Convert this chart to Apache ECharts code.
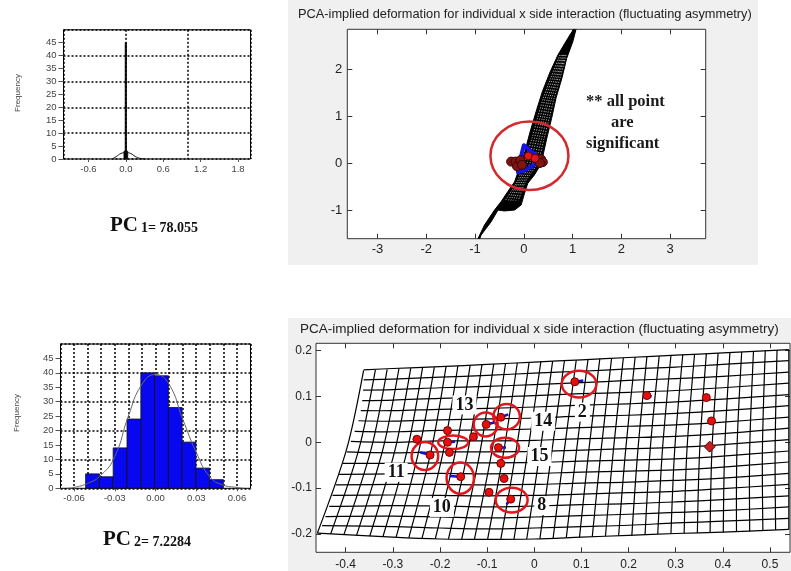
<!DOCTYPE html>
<html><head><meta charset="utf-8">
<script src="https://cdn.jsdelivr.net/npm/echarts@6/dist/echarts.min.js"></script>
<style>
html,body{margin:0;padding:0;background:#fff;}
#wrap{position:relative;width:791px;height:571px;overflow:hidden;background:#fff;}
.panel{position:absolute;background:#f0f0f0;}
#chart{position:absolute;left:0;top:0;width:791px;height:571px;}
</style></head><body>
<div id="wrap">
<div class="panel" style="left:288px;top:0;width:470px;height:265px"></div>
<div class="panel" style="left:288px;top:318px;width:503px;height:253px"></div>
<div id="chart"></div>
</div>
<script>
// ---------- PC1 histogram ----------
const pc1Edges = [-0.03, -0.01, 0.01, 0.03];
const pc1Counts = [3, 45, 3];
const pc1CurveX = [-0.22, -0.15, -0.08, 0, 0.08, 0.15, 0.22, 0.3];
const pc1CurveY = [0, 1, 2.1, 2.5, 2.1, 1, 0.3, 0];
const pc1XTicks = [-0.6, 0, 0.6, 1.2, 1.8];
const freqTicks = [0, 5, 10, 15, 20, 25, 30, 35, 40, 45];

// ---------- PC2 histogram ----------
const pc2Edges = [-0.0515, -0.0413, -0.0312, -0.021, -0.0108, -0.0007, 0.0095, 0.0196, 0.0298, 0.0399, 0.05];
const pc2Counts = [5, 4, 14, 24, 40, 39, 28, 16, 7, 3];
const pc2CurveX = [-0.065, -0.06, -0.05, -0.04, -0.03, -0.02, -0.01, 0, 0.01, 0.02, 0.03, 0.04, 0.05, 0.06, 0.065];
const pc2CurveY = [0, 0.3, 1.7, 4.6, 11, 25, 36, 39.4, 36, 24, 12.5, 4, 1.1, 0.3, 0];
const pc2XTicks = [-0.06, -0.03, 0, 0.03, 0.06];

// ---------- top-right deformation ----------
const trXTicks = [-3, -2, -1, 0, 1, 2, 3];
const trYTicks = [-1, 0, 1, 2];
const trOutline = [[1.072,2.85],[1.004,2.58],[0.88,2.23],[0.78,1.80],[0.66,1.38],[0.57,0.95],[0.47,0.52],[0.395,0.17],[0.341,-0.04],[0.217,-0.255],[0.082,-0.43],[0.014,-0.645],[-0.055,-0.894],[-0.19,-1.0],[-0.40,-1.02],[-0.53,-1.0],[-0.67,-1.25],[-0.875,-1.53],[-0.95,-1.74],[-1.0,-1.74],[-0.807,-1.32],[-0.60,-1.0],[-0.465,-0.82],[-0.33,-0.61],[-0.19,-0.40],[-0.09,-0.11],[0.02,0.24],[0.13,0.67],[0.25,1.09],[0.38,1.52],[0.54,1.94],[0.70,2.30],[0.90,2.65],[1.04,2.88]];
const trWhiteLines = [
  [[0.74,2.3],[0.55,1.8],[0.40,1.38],[0.28,0.95],[0.16,0.5],[0.01,0],[-0.14,-0.4],[-0.38,-0.8]],
  [[0.77,2.3],[0.59,1.8],[0.44,1.38],[0.33,0.95],[0.21,0.5],[0.07,0],[-0.11,-0.4],[-0.32,-0.8]],
  [[0.80,2.3],[0.63,1.8],[0.49,1.38],[0.38,0.95],[0.26,0.5],[0.125,0],[-0.075,-0.4],[-0.27,-0.8]],
  [[0.82,2.3],[0.67,1.8],[0.53,1.38],[0.42,0.95],[0.31,0.5],[0.18,0],[-0.04,-0.4],[-0.22,-0.8]],
  [[0.845,2.3],[0.70,1.8],[0.57,1.38],[0.47,0.95],[0.36,0.5],[0.23,0],[-0.005,-0.4],[-0.165,-0.8]],
  [[0.865,2.3],[0.74,1.8],[0.62,1.38],[0.52,0.95],[0.41,0.5],[0.28,0],[0.03,-0.4],[-0.11,-0.8]]
];
const trBlue = [[0.0,0.38],[0.3,0.12],[0.27,0.0],[0.05,-0.14],[-0.12,-0.2],[-0.08,0.05]];
const trDotsDark = [[-0.26,0.03],[-0.17,0.03],[-0.14,-0.07],[-0.07,0.06],[-0.04,-0.04],[0.355,0.08],[0.39,0.02],[0.33,0.0]];
const trDotsBright = [[0.094,0.15],[0.23,0.1]];
const trRing = [[0.115, 0.155, 0.8, 0.73]];

// ---------- bottom-right deformation ----------
const brXTicks = [-0.4, -0.3, -0.2, -0.1, 0, 0.1, 0.2, 0.3, 0.4, 0.5];
const brYTicks = [-0.2, -0.1, 0, 0.1, 0.2];
const meshKnotX = [-0.3, -0.2, -0.1, 0, 0.1, 0.2, 0.3, 0.4, 0.54];
const rowLeftX = [-0.362,-0.362,-0.363,-0.365,-0.368,-0.373,-0.381,-0.389,-0.398,-0.406,-0.414,-0.421,-0.428,-0.435,-0.443,-0.45,-0.46];
const rowLeftY = [0.158,0.136,0.114,0.091,0.069,0.047,0.024,0.002,-0.021,-0.046,-0.070,-0.093,-0.116,-0.140,-0.162,-0.182,-0.198];
const rowY = [
  [0.161,0.165,0.170,0.175,0.180,0.185,0.190,0.195,0.202],
  [0.138,0.142,0.146,0.151,0.155,0.160,0.164,0.170,0.178],
  [0.115,0.119,0.122,0.126,0.130,0.135,0.139,0.144,0.153],
  [0.092,0.096,0.098,0.102,0.106,0.109,0.113,0.119,0.129],
  [0.069,0.072,0.074,0.077,0.081,0.084,0.088,0.094,0.104],
  [0.046,0.049,0.051,0.053,0.057,0.059,0.063,0.069,0.080],
  [0.023,0.026,0.027,0.029,0.032,0.035,0.038,0.044,0.055],
  [0.000,0.003,0.003,0.004,0.008,0.010,0.013,0.019,0.031],
  [-0.023,-0.021,-0.021,-0.020,-0.017,-0.014,-0.011,-0.005,0.006],
  [-0.046,-0.045,-0.045,-0.044,-0.041,-0.039,-0.036,-0.030,-0.019],
  [-0.069,-0.068,-0.069,-0.068,-0.065,-0.063,-0.060,-0.054,-0.043],
  [-0.092,-0.092,-0.093,-0.092,-0.089,-0.087,-0.083,-0.078,-0.068],
  [-0.115,-0.116,-0.117,-0.116,-0.113,-0.110,-0.107,-0.101,-0.092],
  [-0.138,-0.139,-0.141,-0.139,-0.136,-0.134,-0.130,-0.125,-0.117],
  [-0.161,-0.163,-0.165,-0.163,-0.160,-0.157,-0.153,-0.149,-0.141],
  [-0.184,-0.187,-0.189,-0.187,-0.184,-0.181,-0.176,-0.172,-0.166],
  [-0.207,-0.211,-0.212,-0.211,-0.207,-0.203,-0.199,-0.196,-0.190]
];
const colTopX = [-0.362,-0.337,-0.312,-0.287,-0.262,-0.237,-0.212,-0.187,-0.162,-0.136,-0.111,-0.086,-0.061,-0.036,-0.011,0.014,0.039,0.064,0.089,0.114,0.139,0.164,0.189,0.214,0.239,0.265,0.290,0.315,0.340,0.365,0.390,0.415,0.440,0.465,0.490,0.515,0.540];
const colTopY = [0.157,0.158,0.159,0.161,0.162,0.163,0.164,0.166,0.167,0.168,0.169,0.171,0.172,0.173,0.174,0.176,0.177,0.178,0.179,0.181,0.182,0.183,0.184,0.186,0.187,0.188,0.190,0.191,0.192,0.193,0.195,0.196,0.197,0.198,0.200,0.201,0.202];
const colMidX = [-0.398,-0.372,-0.346,-0.321,-0.295,-0.269,-0.244,-0.218,-0.192,-0.166,-0.140,-0.114,-0.089,-0.064,-0.038,-0.013,0.013,0.038,0.064,0.090,0.116,0.142,0.168,0.194,0.220,0.246,0.272,0.298,0.324,0.351,0.377,0.404,0.430,0.457,0.484,0.511,0.540];
const colMidY = -0.015;
const colBotX = [-0.460,-0.432,-0.404,-0.377,-0.349,-0.321,-0.293,-0.266,-0.238,-0.210,-0.182,-0.154,-0.127,-0.099,-0.071,-0.043,-0.016,0.012,0.040,0.068,0.096,0.123,0.151,0.179,0.207,0.235,0.262,0.290,0.318,0.346,0.373,0.401,0.429,0.457,0.485,0.512,0.540];
const colBotY = [-0.198,-0.200,-0.202,-0.203,-0.205,-0.206,-0.207,-0.208,-0.209,-0.211,-0.211,-0.212,-0.212,-0.212,-0.212,-0.211,-0.211,-0.210,-0.209,-0.208,-0.207,-0.206,-0.205,-0.204,-0.203,-0.202,-0.200,-0.199,-0.198,-0.198,-0.197,-0.196,-0.195,-0.194,-0.193,-0.191,-0.190];
const brDots = [[0.086,0.132],[0.239,0.102],[0.365,0.0975],[0.376,0.0466],[-0.071,0.0546],[-0.102,0.039],[-0.129,0.012],[-0.184,0.0255],[-0.184,0.0],[-0.18,-0.022],[-0.249,0.0066],[-0.221,-0.0277],[-0.156,-0.075],[-0.076,-0.0116],[-0.071,-0.046],[-0.064,-0.079],[-0.096,-0.109],[-0.05,-0.124]];
const brDiamond = [[0.372,-0.0095]];
const brVectors = [
  [[0.086,0.132],[0.104,0.1346]],
  [[0.239,0.102],[0.249,0.100]],
  [[0.370,0.052],[0.376,0.0466]],
  [[-0.071,0.0546],[-0.055,0.061]],
  [[-0.102,0.039],[-0.085,0.043]],
  [[-0.184,0.0],[-0.168,0.001]],
  [[-0.242,-0.0218],[-0.221,-0.0277]],
  [[-0.180,-0.0735],[-0.156,-0.075]],
  [[-0.076,-0.0116],[-0.06,-0.0116]],
  [[-0.0586,-0.1354],[-0.05,-0.124]]
];
const brRings = [[0.095,0.127,0.0367,0.029],[-0.0586,0.056,0.0282,0.0277],[-0.103,0.039,0.0254,0.0262],[-0.172,0.0,0.0318,0.0146],[-0.232,-0.030,0.0282,0.0306],[-0.157,-0.078,0.029,0.034],[-0.062,-0.012,0.0297,0.0218],[-0.048,-0.126,0.0339,0.0269]];
const brLabelText = ['13', '14', '2', '15', '11', '10', '8'];
const brLabelPos = [[-0.148,0.0815],[0.019,0.046],[0.102,0.066],[0.011,-0.031],[-0.293,-0.0655],[-0.196,-0.142],[0.016,-0.138]];

const titleText = 'PCA-implied deformation for individual x side interaction (fluctuating asymmetry)';

// ---------- build ----------
const F = '"Liberation Sans", Arial, sans-serif';
const SERIF = '"Liberation Serif", "Times New Roman", serif';

const meshRows = rowY.map((ys, i) => [[rowLeftX[i], rowLeftY[i]]].concat(meshKnotX.map((x, k) => [x, ys[k]])));
const meshCols = colTopX.map((x, j) => [[x, colTopY[j]], [colMidX[j], colMidY], [colBotX[j], colBotY[j]]]);

function barsSeries(xi, yi, edges, counts, fill, stroke) {
  return {
    type: 'custom', xAxisIndex: xi, yAxisIndex: yi, silent: true, z: 3,
    data: counts.map((c, i) => [edges[i], edges[i + 1], c]),
    encode: { x: [0, 1], y: 2 },
    renderItem: (p, api) => {
      const a = api.coord([api.value(0), 0]);
      const b = api.coord([api.value(1), api.value(2)]);
      return { type: 'rect', shape: { x: a[0], y: b[1], width: b[0] - a[0], height: a[1] - b[1] },
        style: { fill: fill, stroke: stroke, lineWidth: 0.8 } };
    }
  };
}
function pathSeries(xi, yi, lines, style, smooth, closed, z) {
  return {
    type: 'custom', xAxisIndex: xi, yAxisIndex: yi, clip: true, silent: true, z: z || 2,
    data: lines.map(l => l[0]),
    renderItem: (p, api) => {
      const pts = lines[p.dataIndex].map(q => api.coord(q));
      return { type: closed ? 'polygon' : 'polyline', shape: { points: pts, smooth: smooth || 0 }, style: Object.assign({}, style) };
    }
  };
}
function ringSeries(xi, yi, rings, color, width, z) {
  return {
    type: 'custom', xAxisIndex: xi, yAxisIndex: yi, clip: true, silent: true, z: z || 4,
    data: rings.map(r => [r[0], r[1]]),
    renderItem: (p, api) => {
      const r = rings[p.dataIndex];
      const c = api.coord([r[0], r[1]]);
      const s = api.size([r[2], r[3]]);
      return { type: 'ellipse', shape: { cx: c[0], cy: c[1], rx: s[0], ry: s[1] }, style: { fill: null, stroke: color, lineWidth: width } };
    }
  };
}
function textSeries(xi, yi, pos, texts, font, z) {
  return {
    type: 'custom', xAxisIndex: xi, yAxisIndex: yi, silent: true, z: z || 10,
    data: pos,
    renderItem: (p, api) => {
      const c = api.coord([api.value(0), api.value(1)]);
      return { type: 'text', x: c[0], y: c[1],
        style: { text: texts[p.dataIndex], font: font, fill: '#111', align: 'center', verticalAlign: 'middle',
          backgroundColor: '#fff', padding: [1, 3, 0, 3] } };
    }
  };
}
function zip(xs, ys) { return xs.map((x, i) => [x, ys[i]]); }

const histLabel = { fontFamily: F, fontSize: 9.5, color: '#444' };
function histXAxes(grid, min, max, interval, ticks, digits) {
  return [
    { gridIndex: grid, type: 'value', min: min, max: max, position: 'bottom',
      axisLine: { show: false, onZero: false }, splitLine: { show: false },
      axisTick: { show: true, customValues: ticks, length: 3, lineStyle: { color: '#555' } },
      axisLabel: Object.assign({ customValues: ticks, margin: 5, formatter: v => v.toFixed(digits) }, histLabel) },
    { gridIndex: grid, type: 'value', min: min, max: max, interval: interval, position: 'top',
      axisLine: { show: false, onZero: false }, axisTick: { show: false }, axisLabel: { show: false },
      splitLine: { show: true, lineStyle: { color: '#000', width: 1.5, type: [2, 2] } } }
  ];
}
function histYAxes(grid) {
  return [
    { gridIndex: grid, type: 'value', min: 0, max: 50, position: 'left',
      axisLine: { show: false, onZero: false }, splitLine: { show: false },
      axisTick: { show: true, customValues: freqTicks, length: 5, lineStyle: { color: '#555' } },
      axisLabel: Object.assign({ customValues: freqTicks, margin: 7 }, histLabel) },
    { gridIndex: grid, type: 'value', min: 0, max: 50, interval: 10, position: 'right',
      axisLine: { show: false, onZero: false }, axisTick: { show: false }, axisLabel: { show: false },
      splitLine: { show: true, lineStyle: { color: '#000', width: 1.5, type: [2, 2] } } }
  ];
}
function boxAxes(dir, grid, min, max, ticks, fontSize, margin, digits) {
  const pos = dir === 'x' ? ['bottom', 'top'] : ['left', 'right'];
  return [
    { gridIndex: grid, type: 'value', min: min, max: max, position: pos[0],
      axisLine: { show: false, onZero: false }, splitLine: { show: false },
      axisTick: { show: true, inside: true, customValues: ticks, length: 5, lineStyle: { color: '#333' } },
      axisLabel: { customValues: ticks, margin: margin, fontFamily: F, fontSize: fontSize, color: '#222',
        formatter: v => digits === 0 ? String(Math.round(v)) : (Math.abs(v) < 1e-9 ? '0' : String(+v.toFixed(digits))) } },
    { gridIndex: grid, type: 'value', min: min, max: max, position: pos[1],
      axisLine: { show: false, onZero: false }, splitLine: { show: false }, axisLabel: { show: false },
      axisTick: { show: true, inside: true, customValues: ticks, length: 5, lineStyle: { color: '#333' } } }
  ];
}

const option = {
  animation: false,
  backgroundColor: 'transparent',
  grid: [
    { left: 63.5, top: 29.8, width: 187, height: 129.2, show: true, backgroundColor: '#fff', borderColor: '#000', borderWidth: 1 },
    { left: 60.5, top: 344, width: 190, height: 144.3, show: true, backgroundColor: '#fff', borderColor: '#000', borderWidth: 1 },
    { left: 347.3, top: 29.3, width: 358.4, height: 209.4, show: true, backgroundColor: '#fff', borderColor: '#333', borderWidth: 1 },
    { left: 316, top: 343.3, width: 474, height: 209, show: true, backgroundColor: '#fff', borderColor: '#333', borderWidth: 1 }
  ],
  xAxis: [].concat(
    histXAxes(0, -1, 2, 1, pc1XTicks, 1),
    histXAxes(1, -0.07, 0.07, 0.01, pc2XTicks, 2),
    boxAxes('x', 2, -3.62, 3.73, trXTicks, 13, 4, 0),
    boxAxes('x', 3, -0.463, 0.5425, brXTicks, 12, 6, 1)
  ),
  yAxis: [].concat(
    histYAxes(0),
    histYAxes(1),
    boxAxes('y', 2, -1.61, 2.845, trYTicks, 13, 5, 0),
    boxAxes('y', 3, -0.24, 0.216, brYTicks, 12, 4, 1)
  ),
  series: [
    // PC1 histogram
    barsSeries(0, 0, pc1Edges, pc1Counts, '#000', '#000'),
    { type: 'line', xAxisIndex: 0, yAxisIndex: 0, data: zip(pc1CurveX, pc1CurveY), smooth: true, symbol: 'none',
      lineStyle: { color: '#111', width: 1 }, z: 4, silent: true },
    // PC2 histogram
    barsSeries(2, 2, pc2Edges, pc2Counts, '#0808f0', '#111'),
    { type: 'line', xAxisIndex: 2, yAxisIndex: 2, data: zip(pc2CurveX, pc2CurveY), smooth: true, symbol: 'none',
      lineStyle: { color: '#666', width: 1 }, z: 4, silent: true },
    // top-right deformation
    pathSeries(4, 4, [trOutline], { fill: '#000', stroke: '#000', lineWidth: 1 }, 0, true, 2),
    pathSeries(4, 4, trWhiteLines, { stroke: '#fff', lineWidth: 0.7, lineDash: [1.2, 1.6], fill: null }, 0.3, false, 3),
    pathSeries(4, 4, [trBlue], { stroke: '#1414e6', lineWidth: 4, fill: null, lineJoin: 'round' }, 0, true, 4),
    { type: 'scatter', xAxisIndex: 4, yAxisIndex: 4, data: trDotsDark, symbolSize: 9, z: 5, silent: true,
      itemStyle: { color: '#7e1414', borderColor: '#3a0505', borderWidth: 1, opacity: 1 } },
    { type: 'scatter', xAxisIndex: 4, yAxisIndex: 4, data: trDotsBright, symbolSize: 8, z: 6, silent: true,
      itemStyle: { color: '#e01818', borderColor: '#600', borderWidth: 1, opacity: 1 } },
    ringSeries(4, 4, trRing, '#d42a2e', 2.5, 7),
    // bottom-right deformation
    pathSeries(6, 6, meshRows, { stroke: '#000', lineWidth: 1.2, fill: null }, 0.35, false, 2),
    pathSeries(6, 6, meshCols, { stroke: '#000', lineWidth: 1.2, fill: null }, 0.3, false, 2),
    ringSeries(6, 6, brRings, '#e0161c', 2.5, 4),
    pathSeries(6, 6, brVectors, { stroke: '#1010d8', lineWidth: 2.5, fill: null }, 0, false, 5),
    { type: 'scatter', xAxisIndex: 6, yAxisIndex: 6, data: brDots, symbolSize: 8, z: 6, silent: true,
      itemStyle: { color: '#e41010', borderColor: '#700', borderWidth: 1, opacity: 1 } },
    { type: 'scatter', xAxisIndex: 6, yAxisIndex: 6, data: brDiamond, symbol: 'diamond', symbolSize: 11, z: 6, silent: true,
      itemStyle: { color: '#c42020', borderColor: '#600', borderWidth: 1, opacity: 1 } },
    textSeries(6, 6, brLabelPos, brLabelText, 'bold 18px ' + SERIF, 10)
  ],
  graphic: [
    { type: 'text', left: 298, top: 8, z: 50, style: { text: titleText, font: '12.8px ' + F, fill: '#222' } },
    { type: 'text', left: 300, top: 322, z: 50, style: { text: titleText, font: '13.5px ' + F, fill: '#222' } },
    { type: 'text', x: 586, y: 102, z: 50, style: { text: '** all point', font: 'bold 16.5px ' + SERIF, fill: '#1a1a1a', textVerticalAlign: 'middle' } },
    { type: 'text', x: 611, y: 123, z: 50, style: { text: 'are', font: 'bold 16.5px ' + SERIF, fill: '#1a1a1a', textVerticalAlign: 'middle' } },
    { type: 'text', x: 586, y: 144, z: 50, style: { text: 'significant', font: 'bold 16.5px ' + SERIF, fill: '#1a1a1a', textVerticalAlign: 'middle' } },
    { type: 'text', x: 18, y: 93, rotation: Math.PI / 2, z: 50, style: { text: 'Frequency', font: '8px ' + F, fill: '#444', textAlign: 'center', textVerticalAlign: 'middle' } },
    { type: 'text', x: 17, y: 413, rotation: Math.PI / 2, z: 50, style: { text: 'Frequency', font: '8px ' + F, fill: '#444', textAlign: 'center', textVerticalAlign: 'middle' } },
    { type: 'text', left: 110, top: 215, z: 50, style: { text: 'PC', font: 'bold 21px ' + SERIF, fill: '#111' } },
    { type: 'text', left: 141, top: 221, z: 50, style: { text: '1= 78.055', font: 'bold 14px ' + SERIF, fill: '#111' } },
    { type: 'text', left: 103, top: 529, z: 50, style: { text: 'PC', font: 'bold 21px ' + SERIF, fill: '#111' } },
    { type: 'text', left: 134, top: 535, z: 50, style: { text: '2= 7.2284', font: 'bold 14px ' + SERIF, fill: '#111' } }
  ]
};
const chart = echarts.init(document.getElementById('chart'), null, { width: 791, height: 571 });
chart.setOption(option);
</script>
</body></html>
